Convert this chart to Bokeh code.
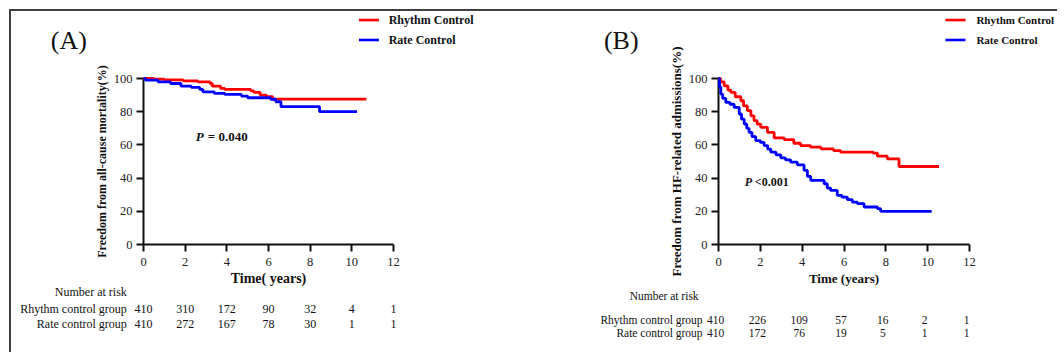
from bokeh.plotting import figure
from bokeh.models import Range1d, FixedTicker, ColumnDataSource
from bokeh.layouts import row
from bokeh.core.properties import value
from bokeh.embed import file_html
from bokeh.resources import INLINE

# ---------------- data ----------------
risk_ticks = [0, 2, 4, 6, 8, 10, 12]
y_ticks = [0, 20, 40, 60, 80, 100]

# Panel A: all-cause mortality
a_rhythm_t = [0, 0.5, 1.0, 1.9, 2.6, 3.2, 3.3, 3.7, 3.9, 5.15, 5.3, 5.6, 5.9, 6.2, 10.7]
a_rhythm_s = [100, 99.6, 99.2, 98.6, 98, 97, 95.4, 94, 93.4, 92.5, 91.6, 90, 89, 87.6, 87.6]
a_rate_t = [0, 0.1, 0.7, 1.3, 1.8, 2.3, 2.7, 2.85, 3.4, 3.9, 4.7, 5.0, 6.1, 6.35, 6.6, 8.45, 10.25]
a_rate_s = [100, 99, 98, 97, 95.4, 94.6, 93.4, 92, 91, 90.4, 89.4, 88.4, 87.5, 86, 83, 80, 80]
a_risk_rhythm = [410, 310, 172, 90, 32, 4, 1]
a_risk_rate = [410, 272, 167, 78, 30, 1, 1]

# Panel B: HF-related admissions
b_rhythm_t = [0, 0.1, 0.27, 0.45, 0.59, 0.8, 1.07, 1.2, 1.38, 1.55, 1.7, 1.85, 2.02, 2.34, 2.66,
              3.14, 3.6, 3.93, 4.4, 4.9, 5.5, 5.84, 7.4, 7.6, 8.07, 8.63, 10.54]
b_rhythm_s = [100, 98, 95.6, 93, 91.6, 89, 86.6, 83.5, 80.6, 77.5, 74.6, 72.5, 70.6, 67.6, 64.2,
              63.2, 61, 59.6, 58.6, 57.6, 56.6, 55.6, 55, 53.2, 51.6, 47, 47]
b_rate_t = [0, 0.05, 0.11, 0.2, 0.35, 0.55, 0.75, 0.99, 1.1, 1.23, 1.35, 1.46, 1.6, 1.78, 2.0,
            2.18, 2.35, 2.5, 2.75, 2.98, 3.2, 3.45, 3.77, 4.09, 4.25, 4.41, 5.05, 5.2, 5.36,
            5.68, 5.9, 6.16, 6.4, 6.64, 6.96, 7.6, 7.75, 10.19]
b_rate_s = [100, 95, 90.6, 88, 85.6, 84.5, 82.6, 78.6, 75.5, 72.6, 70, 67.6, 65, 62.6, 61.5,
            59.6, 57.5, 55.6, 54, 52.2, 51, 49.6, 48, 44.6, 41, 38.6, 36.6, 34, 32.6,
            29.6, 28.5, 27, 25.5, 24.6, 22.6, 21.6, 20, 20]
b_risk_rhythm = [410, 226, 109, 57, 16, 2, 1]
b_risk_rate = [410, 172, 76, 19, 5, 1, 1]

series_names = ["Rhythm Control", "Rate Control"]
group_names = ["Rhythm control group", "Rate control group"]

SERIF = "Liberation Serif"
RED = "#ff0000"
BLUE = "#0000ff"
INK = "#111111"


def txt(p, x, y, s, size, style="normal", align="left", dx=0):
    p.text(x=[x], y=[y], text=[s], text_font=value(SERIF), text_font_size=size,
           text_font_style=style, text_align=align, text_baseline="middle",
           text_color=INK, x_offset=dx, level="overlay")


def panel(width, left, right, tag, tag_x, ylabel, ylabel_size, xlabel, xlabel_size,
          p_text, p_x, p_y, p_size, p_dx,
          r_t, r_s, q_t, q_s, risk1, risk2, rows_y, nar_x, nar_align, row_x, num_dx,
          leg_x0, leg_x1, leg_tx, leg_size, tab_size):
    p = figure(width=width, height=341, output_backend="svg", toolbar_location=None,
               x_range=Range1d(0, 12), y_range=Range1d(0, 100),
               min_border_left=left, min_border_right=right, min_border_top=67,
               min_border_bottom=108)
    p.outline_line_color = None
    p.xgrid.visible = False
    p.ygrid.visible = False
    for ax in (p.xaxis[0], p.yaxis[0]):
        ax.axis_line_width = 2
        ax.axis_line_color = INK
        ax.major_tick_line_width = 2
        ax.major_tick_line_color = INK
        ax.major_tick_out = 7
        ax.major_tick_in = 0
        ax.minor_tick_out = 0
        ax.minor_tick_in = 0
        ax.major_label_text_font = SERIF
        ax.major_label_text_font_size = "12.5px"
        ax.major_label_text_color = "#222222"
        ax.axis_label_text_font = SERIF
        ax.axis_label_text_font_style = "bold"
        ax.axis_label_text_color = INK
    p.xaxis.ticker = FixedTicker(ticks=risk_ticks)
    p.yaxis.ticker = FixedTicker(ticks=y_ticks)
    p.xaxis.major_label_standoff = 6
    p.yaxis.major_label_standoff = 4
    p.yaxis.axis_label = ylabel
    p.yaxis.axis_label_text_font_size = ylabel_size
    p.yaxis.axis_label_standoff = 2
    p.xaxis.axis_label = xlabel
    p.xaxis.axis_label_text_font_size = xlabel_size
    p.xaxis.axis_label_standoff = 2

    p.step(r_t, r_s, mode="after", line_color=RED, line_width=2.8, level="overlay")
    p.step(q_t, q_s, mode="after", line_color=BLUE, line_width=2.8, level="overlay")

    # legend (drawn outside the frame, top right)
    leg_y = [135.2, 123.2]
    p.segment(x0=[leg_x0, leg_x0], x1=[leg_x1, leg_x1], y0=leg_y, y1=leg_y,
              line_color=[RED, BLUE], line_width=2.6, level="overlay")
    for nm, yy in zip(series_names, leg_y):
        txt(p, leg_tx, yy, nm, leg_size, style="bold")

    txt(p, tag_x, 123, tag, "26px")
    txt(p, p_x, p_y, "P", p_size, style="bold italic")
    txt(p, p_x, p_y, p_text, p_size, style="bold", dx=p_dx)

    # number at risk table
    txt(p, nar_x, rows_y[0], "Number at risk", tab_size, align=nar_align)
    for name, yy, counts in ((group_names[0], rows_y[1], risk1), (group_names[1], rows_y[2], risk2)):
        txt(p, row_x, yy, name, tab_size, align="right")
        src = ColumnDataSource(dict(x=risk_ticks, y=[yy] * len(risk_ticks),
                                    t=[str(c) for c in counts]))
        p.text(x="x", y="y", text="t", source=src, text_font=value(SERIF),
               text_font_size=tab_size, text_align="center", text_baseline="middle",
               text_color=INK, x_offset=num_dx, level="overlay")
    return p


pA = panel(538, 132, 156, "(A)", -4.45, "Freedom from all-cause mortality(%)", "12px",
           "Time( years)", "14px", "= 0.040", 2.51, 65.2, "13px", 12,
           a_rhythm_t, a_rhythm_s, a_rate_t, a_rate_s, a_risk_rhythm, a_risk_rate,
           [-28.7, -39.0, -48.0], -0.8, "right", -0.8, 0,
           10.34, 11.30, 11.77, "12px", "12px")
pB = panel(508, 169, 88, "(B)", -5.48, "Freedom from HF-related admissions(%)", "13px",
           "Time (years)", "13px", "<0.001", 1.26, 37.6, "12px", 10,
           b_rhythm_t, b_rhythm_s, b_rate_t, b_rate_s, b_risk_rhythm, b_risk_rate,
           [-30.9, -45.4, -53.2], -2.6, "center", -0.76, -3,
           10.85, 11.81, 12.33, "11px", "11.5px")

layout = row(pA, pB, styles={"border-top": "2px solid #404040", "border-left": "2px solid #404040",
                              "margin-left": "9px", "margin-top": "9px"})
open("out.html", "w").write(file_html(layout, INLINE))
